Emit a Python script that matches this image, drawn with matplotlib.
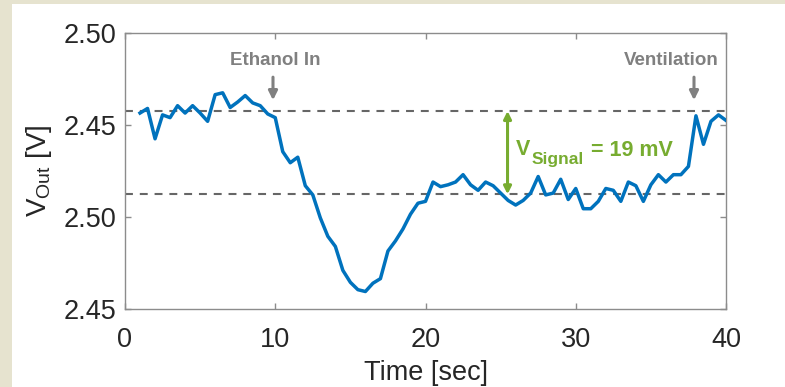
import matplotlib
matplotlib.use("Agg")
import matplotlib.pyplot as plt
from matplotlib.patches import Rectangle

plt.rcParams['font.family'] = ['Liberation Sans', 'DejaVu Sans']
plt.rcParams['mathtext.fontset'] = 'custom'
plt.rcParams['mathtext.rm'] = 'Liberation Sans'
plt.rcParams['mathtext.bf'] = 'Liberation Sans:bold'

# dane (os Y w jednostkach podzialki: 0..3)
time = [1.0 + 0.5 * i for i in range(79)]
vout = [2.13, 2.18, 1.85, 2.11, 2.08, 2.21, 2.13, 2.21, 2.13, 2.04,
        2.33, 2.35, 2.19, 2.25, 2.32, 2.24, 2.21, 2.12, 2.08, 1.71,
        1.59, 1.65, 1.34, 1.24, 0.99, 0.79, 0.68, 0.42, 0.29, 0.21,
        0.19, 0.28, 0.33, 0.63, 0.74, 0.87, 1.03, 1.15, 1.17, 1.38,
        1.33, 1.35, 1.38, 1.46, 1.35, 1.29, 1.38, 1.34, 1.26, 1.18,
        1.13, 1.18, 1.26, 1.44, 1.24, 1.26, 1.41, 1.19, 1.31, 1.09,
        1.09, 1.17, 1.31, 1.29, 1.17, 1.38, 1.34, 1.17, 1.35, 1.46,
        1.38, 1.46, 1.46, 1.55, 2.10, 1.79, 2.04, 2.11, 2.05]

yticks = [0, 1, 2, 3]
ytick_labels = ["2.45", "2.50", "2.45", "2.50"]
xticks = [0, 10, 20, 30, 40]

baseline_hi = 2.152
baseline_lo = 1.247
events = [("Ethanol In", 9.85, 9.98), ("Ventilation", 37.87, 36.35)]

blue = '#0072BD'
green = '#77AC30'
grey = '#808080'
dark = '#262626'

fig = plt.figure(figsize=(7.85, 3.87), dpi=100, facecolor='#E6E3CF')
fig.patches.append(Rectangle((12 / 785, 0), 1, 383 / 387, transform=fig.transFigure,
                             facecolor='white', edgecolor='none', zorder=-10))

ax = fig.add_axes([125 / 785, 78 / 387, 601 / 785, 276 / 387])
ax.set_facecolor('white')

for lvl in (baseline_hi, baseline_lo):
    ax.axhline(lvl, color='#666666', lw=1.5, ls=(0, (3.8, 3.3)), zorder=1)

ax.plot(time, vout, color=blue, lw=2.5, zorder=3)

ax.set_xlim(0, 40)
ax.set_ylim(0, 3)
ax.set_xticks(xticks)
ax.set_yticks(yticks)
ax.set_yticklabels(ytick_labels)
ax.tick_params(direction='in', length=4, width=1, color='#8c8c8c',
               top=True, right=True, labelsize=19.5, labelcolor=dark)
ax.tick_params(axis='x', pad=13)
ax.tick_params(axis='y', pad=6)
for s in ax.spines.values():
    s.set_color('#8c8c8c')
    s.set_linewidth(1)

ax.set_xlabel('Time [sec]', fontsize=19.5, color=dark, labelpad=5)
ax.set_ylabel(r'V$_{\mathregular{Out}}$ [V]', fontsize=20, color=dark, labelpad=7)

# zdarzenia
for label, t_arrow, t_text in events:
    ax.text(t_text, 2.70, label, ha='center', va='center', fontsize=13.5,
            fontweight='bold', color=grey)
    ax.annotate('', xy=(t_arrow, 2.27), xytext=(t_arrow, 2.52),
                arrowprops=dict(arrowstyle='-|>', color=grey, lw=2.2,
                                mutation_scale=13, shrinkA=0, shrinkB=0))

# sygnal
ax.annotate('', xy=(25.46, baseline_hi), xytext=(25.46, baseline_lo),
            arrowprops=dict(arrowstyle='<|-|>', color=green, lw=2.2,
                            mutation_scale=11, shrinkA=0, shrinkB=0))
ax.text(26.0, 1.67, 'V', fontsize=15.5, fontweight='bold', color=green,
        ha='left', va='baseline')
ax.text(27.07, 1.58, 'Signal', fontsize=12.5, fontweight='bold', color=green,
        ha='left', va='baseline')
ax.text(31.0, 1.665, '= 19 mV', fontsize=15.5, fontweight='bold', color=green,
        ha='left', va='baseline')

fig.savefig('out.png', dpi=100, facecolor=fig.get_facecolor())
